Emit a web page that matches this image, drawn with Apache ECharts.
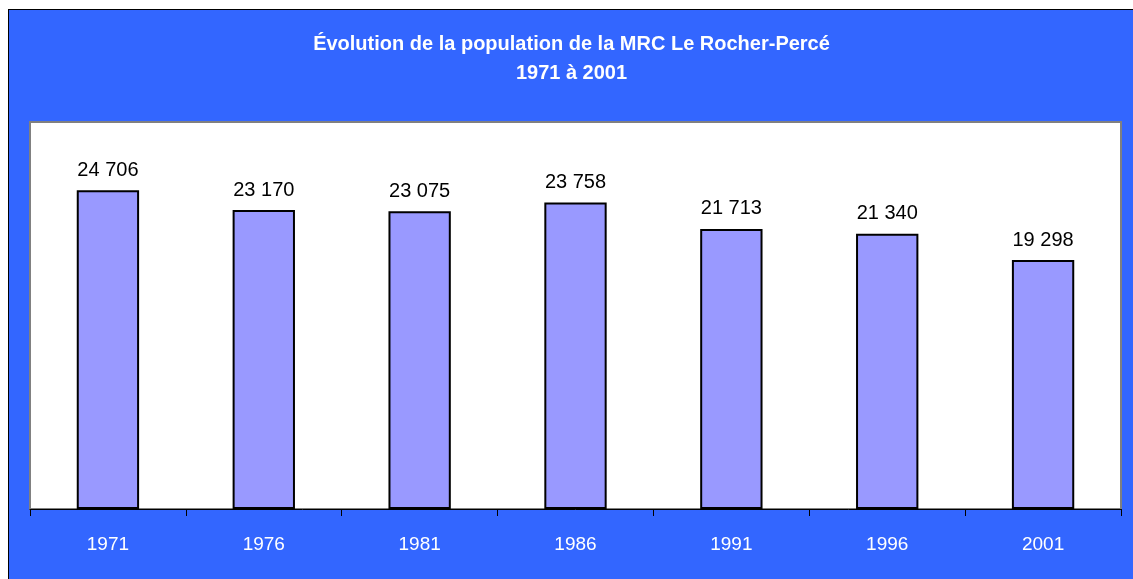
<!DOCTYPE html>
<html>
<head>
<meta charset="utf-8">
<script src="https://cdn.jsdelivr.net/npm/echarts@6/dist/echarts.min.js"></script>
<style>
    html, body { margin: 0; padding: 0; background: #fff; overflow: hidden; }
    #chart {
        position: absolute;
        left: 8px;
        top: 9px;
        width: 1125px;
        height: 570px;
        border: 1px solid #000;
        background: #3366ff;
    }
</style>
</head>
<body>
<div id="chart"></div>
<script>
// données
const years = ['1971', '1976', '1981', '1986', '1991', '1996', '2001'];
const population = [24706, 23170, 23075, 23758, 21713, 21340, 19298];

const chart = echarts.init(document.getElementById('chart'));

// séparateur de milliers avec espace
const fmt = v => String(v).replace(/\B(?=(\d{3})+(?!\d))/g, ' ');

chart.setOption({
    backgroundColor: '#3366ff',
    textStyle: { fontFamily: 'Liberation Sans, Arial, sans-serif' },
    title: {
        text: 'Évolution de la population de la MRC Le Rocher-Percé\n1971 à 2001',
        left: 'center',
        top: 15,
        textStyle: {
            color: '#fff',
            fontSize: 20,
            fontWeight: 'bold',
            lineHeight: 29
        }
    },
    grid: {
        left: 21,
        right: 13,
        top: 112,
        bottom: 71,
        show: true,
        backgroundColor: '#fff',
        borderColor: '#808080',
        borderWidth: 2
    },
    xAxis: {
        type: 'category',
        data: years,
        axisLine: { lineStyle: { color: '#000', width: 1 } },
        axisTick: { show: true, length: 7, interval: 0, lineStyle: { color: '#000' } },
        axisLabel: { color: '#fff', fontSize: 19, margin: 26 }
    },
    yAxis: {
        type: 'value',
        min: 0,
        max: 30000,
        show: false,
        splitLine: { show: false }
    },
    series: [{
        type: 'bar',
        data: population,
        barWidth: '40%',
        itemStyle: {
            color: '#9999ff',
            borderColor: '#000',
            borderWidth: 2
        },
        label: {
            show: true,
            position: 'top',
            distance: 10,
            color: '#000',
            fontSize: 20,
            formatter: p => fmt(p.value)
        }
    }]
});
</script>
</body>
</html>
